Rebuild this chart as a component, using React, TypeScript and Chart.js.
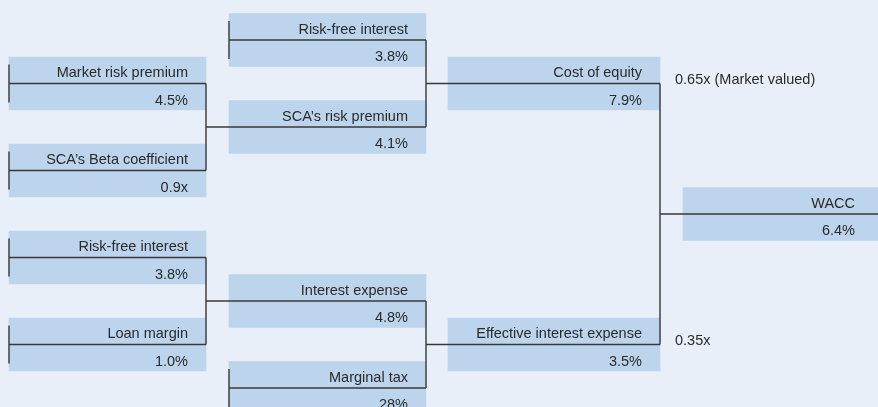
import React, { useEffect, useRef } from "react";
import { Chart, registerables } from "chart.js";

Chart.register(...registerables);

// ---- data ----
const nodeLabels = [
  "Market risk premium",
  "SCA\u2019s Beta coefficient",
  "Risk-free interest",
  "Loan margin",
  "Risk-free interest",
  "SCA\u2019s risk premium",
  "Interest expense",
  "Marginal tax",
  "Cost of equity",
  "Effective interest expense",
  "WACC",
];
const nodeValues = ["4.5%", "0.9x", "3.8%", "1.0%", "3.8%", "4.1%", "4.8%", "28%", "7.9%", "3.5%", "6.4%"];
// children of each node (index list), empty = leaf
const nodeChildren: number[][] = [[], [], [], [], [], [0, 1], [2, 3], [], [4, 5], [6, 7], [8, 9]];
const weightNotes: { node: number; text: string }[] = [
  { node: 8, text: "0.65x (Market valued)" },
  { node: 9, text: "0.35x" },
];

// ---- layout (not data) ----
const nodeColumn = [0, 0, 0, 0, 1, 1, 1, 1, 2, 2, 3];
const leafRow: Record<number, number> = { 0: 1, 1: 3, 2: 5, 3: 7, 4: 0, 7: 8 };
const COL_LEFT = [9, 229, 448, 683];
const COL_RIGHT = [206, 426, 660, 880];
const TEXT_RIGHT = [188, 408, 642, 855];
const BG = "#e8eff8";
const BOX = "#bdd5ec";
const LINE = "#383838";
const TEXT = "#2a2a2a";
const FONT = '14.5px "Liberation Sans", Arial, sans-serif';

function rowOf(i: number): number {
  if (nodeChildren[i].length === 0) return leafRow[i];
  const ch = nodeChildren[i];
  return ch.reduce((s, c) => s + rowOf(c), 0) / ch.length;
}

export default function App() {
  const ref = useRef<HTMLCanvasElement>(null);
  useEffect(() => {
    document.body.style.margin = "0";
    const rows = nodeLabels.map((_, i) => rowOf(i));

    const segs: { x: number; y: number }[][] = [];
    nodeLabels.forEach((_, i) => {
      const c = nodeColumn[i];
      // main horizontal line through the box
      let startX = COL_LEFT[c];
      if (nodeChildren[i].length) {
        startX = COL_RIGHT[nodeColumn[nodeChildren[i][0]]];
        const ch = nodeChildren[i];
        const cx = COL_RIGHT[nodeColumn[ch[0]]];
        segs.push([
          { x: cx, y: rows[ch[0]] },
          { x: cx, y: rows[ch[ch.length - 1]] },
        ]);
      } else {
        segs.push([
          { x: COL_LEFT[c], y: rows[i] - 0.437 },
          { x: COL_LEFT[c], y: rows[i] + 0.437 },
        ]);
      }
      segs.push([
        { x: startX, y: rows[i] },
        { x: Math.min(COL_RIGHT[c], 878), y: rows[i] },
      ]);
    });

    const lineSets: any[] = segs.map((s) => ({
      type: "line",
      data: s,
      borderColor: LINE,
      borderWidth: 1.4,
      pointRadius: 0,
      fill: false,
      tension: 0,
      order: 1,
    }));

    const textPlugin = {
      id: "treeText",
      beforeDraw(chart: any) {
        const { ctx, width, height } = chart;
        ctx.save();
        ctx.fillStyle = BG;
        ctx.fillRect(0, 0, width, height);
        ctx.restore();
      },
      afterDatasetsDraw(chart: any) {
        const { ctx } = chart;
        const xs = chart.scales.x;
        const ys = chart.scales.y;
        ctx.save();
        ctx.font = FONT;
        ctx.fillStyle = TEXT;
        ctx.textBaseline = "alphabetic";
        nodeLabels.forEach((lab, i) => {
          const c = nodeColumn[i];
          const py = ys.getPixelForValue(rows[i]);
          const px = xs.getPixelForValue(TEXT_RIGHT[c]);
          ctx.textAlign = "right";
          ctx.fillText(lab, px, py - 6.5);
          ctx.fillText(nodeValues[i], px, py + 21.3);
        });
        weightNotes.forEach((w) => {
          const c = nodeColumn[w.node];
          const py = ys.getPixelForValue(rows[w.node]);
          const px = xs.getPixelForValue(COL_RIGHT[c] + 15);
          ctx.textAlign = "left";
          ctx.fillText(w.text, px, py + 0.5);
        });
        ctx.restore();
      },
    };

    const chart = new Chart(ref.current!, {
      type: "bar",
      data: {
        datasets: [
          {
            type: "bar",
            indexAxis: "y",
            data: nodeLabels.map((_, i) => ({
              x: [COL_LEFT[nodeColumn[i]], COL_RIGHT[nodeColumn[i]]],
              y: rows[i],
            })),
            backgroundColor: BOX,
            borderWidth: 0,
            barThickness: 53,
            order: 10,
          } as any,
          ...lineSets,
        ],
      },
      options: {
        animation: false,
        responsive: false,
        events: [],
        layout: { padding: 0 },
        plugins: { legend: { display: false }, tooltip: { enabled: false } },
        scales: {
          x: { type: "linear", min: 0, max: 878, display: false, offset: false },
          y: { type: "linear", min: -40 / 43.5, max: 367 / 43.5, reverse: true, display: false, offset: false },
        },
      } as any,
      plugins: [textPlugin],
    });
    return () => chart.destroy();
  }, []);
  return (
    <div style={{ width: 878, height: 407, background: BG }}>
      <canvas ref={ref} width={878} height={407} style={{ display: "block" }} />
    </div>
  );
}
